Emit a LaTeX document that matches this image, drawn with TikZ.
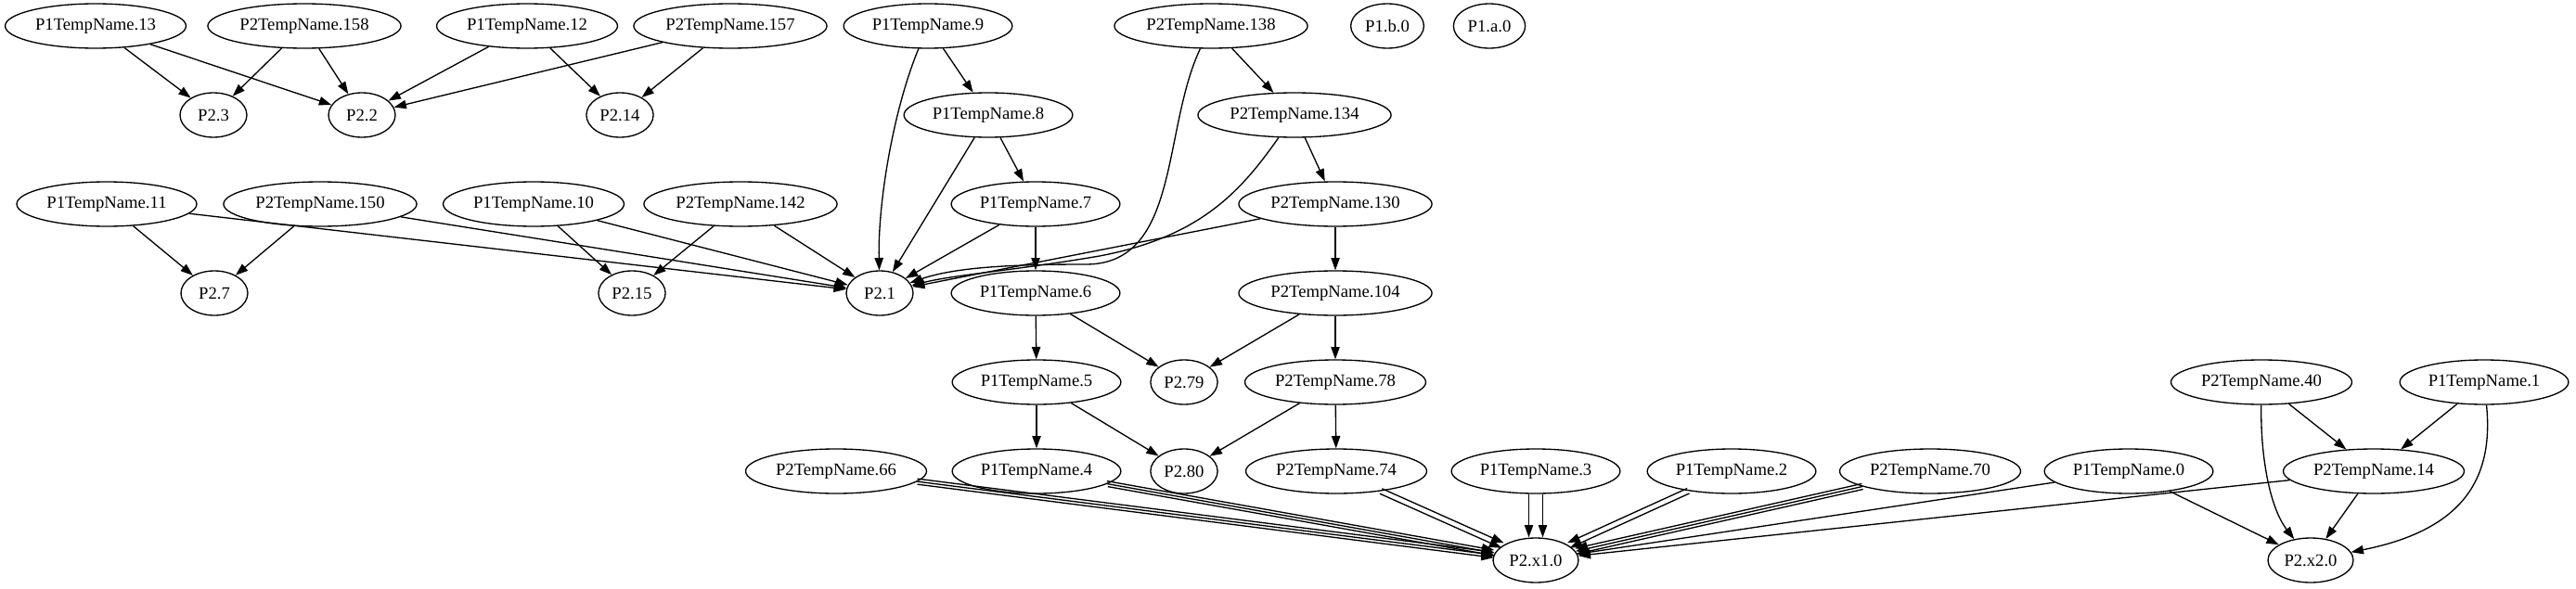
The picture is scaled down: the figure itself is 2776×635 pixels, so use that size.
\documentclass[tikz,border=0pt]{standalone}
\usepackage{fontspec}
\setmainfont{Liberation Serif}
\usetikzlibrary{
    shapes.geometric,
    arrows.meta
}

\begin{document}
\begin{tikzpicture}[
    x=0.75pt, y=-0.75pt,
    st/.style={ellipse, draw, line width=1pt, minimum width=54pt, minimum height=36pt, inner xsep=3pt, inner ysep=0pt, font=\fontsize{14}{16}\selectfont},
    edge/.style={line width=1pt, -{Triangle[length=10pt, width=7pt]}},
]
\useasboundingbox (0,0) rectangle (2776,635);

\node[st] (p1t13) at (103,28) {P1TempName.13};
\node[st] (p2t158) at (328,28) {P2TempName.158};
\node[st] (p1t12) at (568,28) {P1TempName.12};
\node[st] (p2t157) at (787,28) {P2TempName.157};
\node[st] (p1t9) at (1000,28) {P1TempName.9};
\node[st] (p2t138) at (1305,28) {P2TempName.138};
\node[st] (p1b0) at (1495,28) {P1.b.0};
\node[st] (p1a0) at (1605,28) {P1.a.0};

\node[st] (r3) at (230,124) {P2.3};
\node[st] (r2) at (390,124) {P2.2};
\node[st] (r14) at (668,124) {P2.14};
\node[st] (p1t8) at (1065,124) {P1TempName.8};
\node[st] (p2t134) at (1395,124) {P2TempName.134};

\node[st] (p1t11) at (115,220) {P1TempName.11};
\node[st] (p2t150) at (345,220) {P2TempName.150};
\node[st] (p1t10) at (575,220) {P1TempName.10};
\node[st] (p2t142) at (798,220) {P2TempName.142};
\node[st] (p1t7) at (1116,220) {P1TempName.7};
\node[st] (p2t130) at (1439,220) {P2TempName.130};

\node[st] (r7) at (231,316) {P2.7};
\node[st] (r15) at (681,316) {P2.15};
\node[st] (r1) at (948,316) {P2.1};
\node[st] (p1t6) at (1116,316) {P1TempName.6};
\node[st] (p2t104) at (1439,316) {P2TempName.104};

\node[st] (p1t5) at (1117,412) {P1TempName.5};
\node[st] (r79) at (1276,412) {P2.79};
\node[st] (p2t78) at (1439,412) {P2TempName.78};
\node[st] (p2t40) at (2437,412) {P2TempName.40};
\node[st] (p1t1) at (2677,412) {P1TempName.1};

\node[st] (p2t66) at (901,508) {P2TempName.66};
\node[st] (p1t4) at (1117,508) {P1TempName.4};
\node[st] (r80) at (1276,508) {P2.80};
\node[st] (p2t74) at (1440,508) {P2TempName.74};
\node[st] (p1t3) at (1655,508) {P1TempName.3};
\node[st] (p1t2) at (1866,508) {P1TempName.2};
\node[st] (p2t70) at (2080,508) {P2TempName.70};
\node[st] (p1t0) at (2294,508) {P1TempName.0};
\node[st] (p2t14) at (2558,508) {P2TempName.14};

\node[st] (rx1) at (1655,604) {P2.x1.0};
\node[st] (rx2) at (2490,604) {P2.x2.0};

\draw[edge] (p1t13) -- (r3);
\draw[edge] (p1t13) -- (r2);
\draw[edge] (p2t158) -- (r3);
\draw[edge] (p2t158) -- (r2);
\draw[edge] (p1t12) -- (r2);
\draw[edge] (p1t12) -- (r14);
\draw[edge] (p2t157) -- (r2);
\draw[edge] (p2t157) -- (r14);

\draw[edge] (p1t9) -- (p1t8);
\draw[edge] (p1t9) .. controls (962,120) and (946,220) .. (r1);
\draw[edge] (p2t138) -- (p2t134);
\draw[edge] (p2t138) .. controls (1252,140) and (1272,285) .. (1170,285) .. controls (1090,285) and (1030,288) .. (r1);
\draw[edge] (p1t8) -- (r1);
\draw[edge] (p1t8) -- (p1t7);
\draw[edge] (p2t134) .. controls (1338,205) and (1295,255) .. (1185,276) .. controls (1090,292) and (1030,296) .. (r1);
\draw[edge] (p2t134) -- (p2t130);

\draw[edge] (p1t11) -- (r7);
\draw[edge] (p1t11) -- (r1);
\draw[edge] (p2t150) -- (r7);
\draw[edge] (p2t150) -- (r1);
\draw[edge] (p1t10) -- (r15);
\draw[edge] (p1t10) -- (r1);
\draw[edge] (p2t142) -- (r15);
\draw[edge] (p2t142) -- (r1);
\draw[edge] (p1t7) -- (r1);
\draw[edge] (p1t7) -- (p1t6);
\draw[edge] (p2t130) -- (r1);
\draw[edge] (p2t130) -- (p2t104);

\draw[edge] (p1t6) -- (p1t5);
\draw[edge] (p1t6) -- (r79);
\draw[edge] (p2t104) -- (r79);
\draw[edge] (p2t104) -- (p2t78);
\draw[edge] (p1t5) -- (p1t4);
\draw[edge] (p1t5) -- (r80);
\draw[edge] (p2t78) -- (r80);
\draw[edge] (p2t78) -- (p2t74);

\foreach \s in {-1,0,1}
    \draw[edge, transform canvas={shift={(0,3*\s)}}] (p2t66) -- (rx1);
\foreach \s in {-1,0,1}
    \draw[edge, transform canvas={shift={(0.5*\s,3*\s)}}] (p1t4) -- (rx1);
\foreach \s in {-1,1}
    \draw[edge, transform canvas={shift={(-1.2*\s,2.7*\s)}}] (p2t74) -- (rx1);
\foreach \s in {-1,1}
    \draw[edge, transform canvas={shift={(7.5*\s,0)}}] (p1t3) -- (rx1);
\foreach \s in {-1,1}
    \draw[edge, transform canvas={shift={(1.2*\s,2.7*\s)}}] (p1t2) -- (rx1);
\foreach \s in {-1,0,1}
    \draw[edge, transform canvas={shift={(0.7*\s,3*\s)}}] (p2t70) -- (rx1);
\draw[edge] (p1t0) -- (rx1);
\draw[edge] (p2t14) -- (rx1);

\draw[edge] (p1t0) -- (rx2);
\draw[edge] (p2t14) -- (rx2);
\draw[edge] (p2t40) -- (p2t14);
\draw[edge] (p2t40) .. controls (2436,500) and (2448,550) .. (rx2);
\draw[edge] (p1t1) -- (p2t14);
\draw[edge] (p1t1) .. controls (2688,520) and (2650,572) .. (rx2);
\end{tikzpicture}
\end{document}
